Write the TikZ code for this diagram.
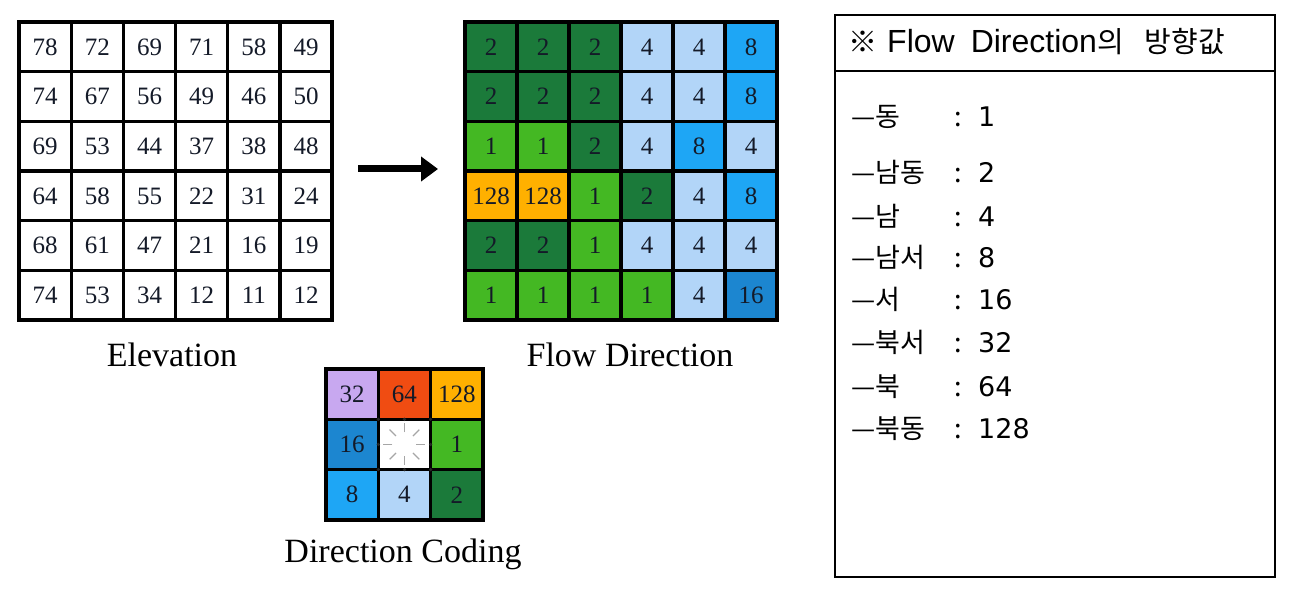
\documentclass[tikz,border=0pt]{standalone}
\usepackage{fontspec}
\setmainfont{Liberation Serif}
\newfontfamily\krfont{Noto Sans CJK KR}
\newfontfamily\latfont{DejaVu Sans}
\newfontfamily\hdrfont{Liberation Sans}
\usetikzlibrary{arrows.meta,calc}
\definecolor{fd1}{HTML}{44B823}
\definecolor{fd2}{HTML}{1B7A3A}
\definecolor{fd4}{HTML}{B2D5F8}
\definecolor{fd8}{HTML}{1EA6F5}
\definecolor{fd16}{HTML}{1C86D0}
\definecolor{fd32}{HTML}{C8A8F0}
\definecolor{fd64}{HTML}{F04C12}
\definecolor{fd128}{HTML}{FFB000}
\definecolor{celltext}{HTML}{141A28}
\begin{document}
\begin{tikzpicture}[x=1pt,y=-1pt,
  cell/.style={draw=black, line width=3.3pt, minimum width=52pt, minimum height=49.7pt,
    inner sep=0pt, outer sep=0pt, font=\fontsize{25}{25}\selectfont, text=celltext},
  dcell/.style={cell, minimum width=52.3pt, minimum height=50.3pt, line width=3.5pt},
  border/.style={draw=black, line width=4.5pt},
  lbl/.style={font=\fontsize{34}{34}\selectfont, anchor=base, inner sep=0pt},
  krtext/.style={font=\krfont\fontsize{27}{27}\selectfont, inner sep=0pt},
  hdrtext/.style={font=\krfont\fontsize{29}{29}\selectfont, inner sep=0pt},
  stub/.style={draw=gray!70, line width=1.2pt},
  tipdot/.style={fill=black!85, draw=none}]
\useasboundingbox[fill=white] (0,0) rectangle (1293,593);

% Elevation grid
\foreach \row [count=\r] in {{78,72,69,71,58,49},{74,67,56,49,46,50},{69,53,44,37,38,48},
  {64,58,55,22,31,24},{68,61,47,21,16,19},{74,53,34,12,11,12}}{
  \foreach \v [count=\c] in \row {
    \node[cell, fill=white, minimum width=52.2pt] (e-\r-\c) at ({19+52.2*(\c-0.5)}, {22+49.7*(\r-0.5)}) {\v};
  }
}
\draw[border] (e-1-1.north west) rectangle (e-6-6.south east);
\node[lbl] (elevlbl) at (172,367) {Elevation};

% Flow direction grid
\foreach \row [count=\r] in {{2,2,2,4,4,8},{2,2,2,4,4,8},{1,1,2,4,8,4},
  {128,128,1,2,4,8},{2,2,1,4,4,4},{1,1,1,1,4,16}}{
  \foreach \v [count=\c] in \row {
    \node[cell, fill=fd\v] (f-\r-\c) at ({465+52*(\c-0.5)}, {22+49.7*(\r-0.5)}) {\v};
  }
}
\draw[border] (f-1-1.north west) rectangle (f-6-6.south east);
\node[lbl] (flowlbl) at (630,367) {Flow Direction};

% Arrow
\coordinate (ar1) at (358,169);
\coordinate (ar2) at (438,169);
\draw[line width=7pt, -{Triangle[length=17pt,width=24pt]}] (ar1) -- (ar2);

% Direction coding
\foreach \row [count=\r] in {{32,64,128},{16,0,1},{8,4,2}}{
  \foreach \v [count=\c] in \row {
    \ifnum\v=0
      \node[dcell, fill=white] (d-\r-\c) at ({326+52.3*(\c-0.5)}, {369+50.3*(\r-0.5)}) {};
    \else
      \node[dcell, fill=fd\v] (d-\r-\c) at ({326+52.3*(\c-0.5)}, {369+50.3*(\r-0.5)}) {\v};
    \fi
  }
}
\draw[border] (d-1-1.north west) rectangle (d-3-3.south east);
\foreach \a in {0,45,...,315}{
  \draw[stub] ($(d-2-2.center)+(\a:12)$) -- ($(d-2-2.center)+(\a:21)$);
}
\foreach \p in {d-2-2.north, d-2-2.south, d-2-2.east, d-2-2.west,
  d-2-2.north west, d-2-2.north east, d-2-2.south west, d-2-2.south east}{
  \fill[tipdot] (\p) circle (1.8pt);
}
\node[lbl] (codelbl) at (403,562) {Direction Coding};

% Right box
\node[draw=black, line width=1.2pt, minimum width=440pt, minimum height=562pt, anchor=north west,
  inner sep=0pt, outer sep=0pt] (box) at (835,15) {};
\coordinate (hl) at (835,71);
\coordinate (hr) at (1275,71);
\draw[line width=1.2pt] (hl) -- (hr);
\node[hdrtext, anchor=base west] (hdr) at (848,53)
  {※\hspace{10pt}{\hdrfont\fontsize{32}{32}\selectfont Flow\hspace{16pt}Direction}의\hspace{21pt}방향값};
\foreach \k/\y/\v [count=\i] in {동/127/1, 남동/183/2, 남/227/4, 남서/268/8, 서/310/16,
  북서/353/32, 북/397/64, 북동/438/128}{
  \node[krtext, anchor=base west] (k-\i) at (851,\y) {—\k};
  \node[krtext, anchor=base] (c-\i) at (958,\y) {:};
  \node[krtext, anchor=base west] (v-\i) at (978,\y) {\latfont\v};
}
\end{tikzpicture}
\end{document}
